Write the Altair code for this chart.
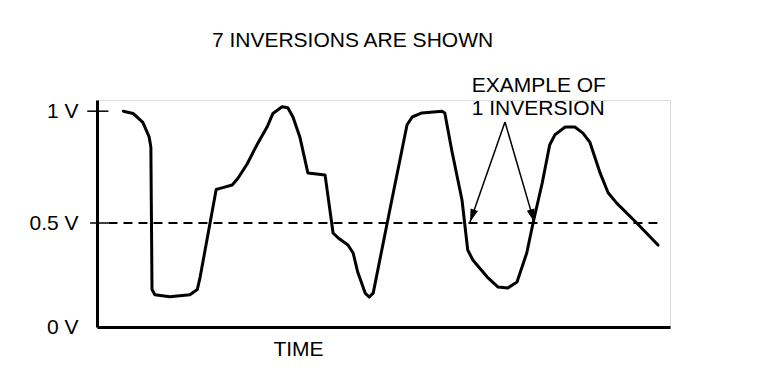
import altair as alt
import pandas as pd

# ---- data ----
time = [4.6, 6.3, 8.0, 9.1, 9.4, 9.6, 10.1, 12.7, 16.2, 17.5,
        18.0, 20.8, 21.8, 23.6, 24.6, 26.2, 27.9, 29.7, 30.7, 32.3,
        33.3, 34.2, 35.4, 36.8, 39.8, 41.2, 42.1, 43.8, 44.7, 45.5,
        46.8, 47.5, 48.2, 51.1, 54.1, 55.0, 56.7, 60.2, 60.7, 61.9,
        63.7, 64.7, 65.6, 68.1, 70.0, 71.7, 73.3, 75.0, 76.1, 77.7,
        79.0, 79.9, 81.7, 83.4, 84.8, 86.0, 87.8, 89.2, 90.7, 94.2,
        97.9]
volts = [1.0, 0.99, 0.95, 0.885, 0.84, 0.18, 0.155, 0.145, 0.155, 0.18,
         0.24, 0.65, 0.657, 0.67, 0.70, 0.764, 0.849, 0.93, 0.99, 1.02,
         1.015, 0.974, 0.885, 0.724, 0.715, 0.452, 0.428, 0.394, 0.356, 0.264,
         0.163, 0.144, 0.163, 0.558, 0.938, 0.974, 0.992, 1.0, 0.992, 0.826,
         0.603, 0.37, 0.322, 0.24, 0.192, 0.188, 0.216, 0.356, 0.5, 0.679,
         0.849, 0.894, 0.929, 0.929, 0.902, 0.862, 0.724, 0.635, 0.589, 0.5,
         0.394]

y_tick_values = [0, 0.5, 1]
threshold = [0.5]
threshold_span = [2.0, 97.8]
marked_ticks = [1.0, 0.5]

arrow_from_t = [71.2, 71.2]
arrow_from_v = [0.952, 0.952]
arrow_to_t = [65.1, 76.3]
arrow_to_v = [0.504, 0.504]
arrow_angle = [199, 164]

note_t = [65.4]
note_v = [1.086]
note_text = [["EXAMPLE OF", "1 INVERSION"]]

FONT = "Liberation Sans"

curve = pd.DataFrame({"t": time, "v": volts})
xs = alt.Scale(domain=[0, 100], nice=False, zero=False)
ys = alt.Scale(domain=[0, 0.5, 1.05], range=[227, 123, 0], nice=False, zero=False)

x_axis = alt.Axis(title="TIME", ticks=False, labels=False, grid=False,
                  domainColor="black", domainWidth=3,
                  titleFont=FONT, titleFontSize=21, titleFontWeight="normal",
                  titleX=201, titleY=28, titleBaseline="alphabetic", titleAlign="center")
y_axis = alt.Axis(title=None, values=y_tick_values, ticks=False, grid=False,
                  labelExpr="datum.value + ' V'", labelFont=FONT, labelFontSize=21,
                  labelColor="black", labelPadding=19, labelBaseline="middle",
                  domainColor="black", domainWidth=3)

line = alt.Chart(curve).mark_line(color="black", strokeWidth=3,
                                  strokeJoin="round", strokeCap="round").encode(
    x=alt.X("t:Q", scale=xs, axis=x_axis),
    y=alt.Y("v:Q", scale=ys, axis=y_axis),
)

thr = alt.Chart(pd.DataFrame({"v": threshold, "a": [threshold_span[0]], "b": [threshold_span[1]]})).mark_rule(
    color="black", strokeWidth=2, strokeDash=[9, 6]).encode(
    x=alt.X("a:Q", scale=xs), x2="b:Q", y=alt.Y("v:Q", scale=ys))

ticks = alt.Chart(pd.DataFrame({"v": marked_ticks, "a": [-1.7, -1.2], "b": [2.0, 2.0]})).mark_rule(
    color="black", strokeWidth=1.5).encode(
    x=alt.X("a:Q", scale=xs), x2="b:Q", y=alt.Y("v:Q", scale=ys))

arrows_df = pd.DataFrame({"t0": arrow_from_t, "v0": arrow_from_v,
                          "t1": arrow_to_t, "v1": arrow_to_v, "ang": arrow_angle})
arrow_lines = alt.Chart(arrows_df).mark_rule(color="black", strokeWidth=1.5).encode(
    x=alt.X("t0:Q", scale=xs), y=alt.Y("v0:Q", scale=ys), x2="t1:Q", y2="v1:Q")
arrow_heads = alt.Chart(arrows_df).mark_point(
    shape="M0,0L0.3,1L-0.3,1Z", filled=True, color="black", size=676, opacity=1).encode(
    x=alt.X("t1:Q", scale=xs), y=alt.Y("v1:Q", scale=ys),
    angle=alt.Angle("ang:Q", scale=None))

note = alt.Chart(pd.DataFrame({"t": note_t, "v": note_v, "txt": note_text})).mark_text(
    align="left", baseline="alphabetic", font=FONT, fontSize=21, lineHeight=23,
    color="black").encode(
    x=alt.X("t:Q", scale=xs), y=alt.Y("v:Q", scale=ys), text="txt")

chart = alt.layer(thr, ticks, line, arrow_lines, arrow_heads, note).properties(
    width=573, height=227,
    title=alt.TitleParams("7 INVERSIONS ARE SHOWN", font=FONT, fontSize=21,
                          fontWeight="normal", color="black", anchor="middle",
                          frame="group", dx=-31, offset=24),
    autosize=alt.AutoSizeParams(type="none"),
    padding={"left": 89, "top": 92, "right": 80, "bottom": 40},
).configure_view(stroke=None).configure(background="white")

chart.save("out.html", embed_options={"renderer": "svg", "actions": False})
